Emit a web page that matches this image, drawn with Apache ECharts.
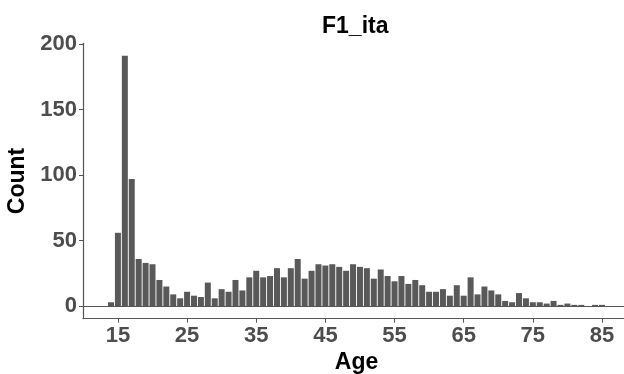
<!DOCTYPE html>
<html><head><meta charset="utf-8">
<script src="https://cdn.jsdelivr.net/npm/echarts@6/dist/echarts.min.js"></script>
<style>html,body{margin:0;padding:0;background:#fff}#c{width:624px;height:374px}</style>
</head><body><div id="c"></div>
<script>
const ages = [14,15,16,17,18,19,20,21,22,23,24,25,26,27,28,29,30,31,32,33,34,35,36,37,38,39,40,41,42,43,44,45,46,47,48,49,50,51,52,53,54,55,56,57,58,59,60,61,62,63,64,65,66,67,68,69,70,71,72,73,74,75,76,77,78,79,80,81,82,83,84,85];
const counts = [3,56,191,97,36,33,32,20,15,9,6,11,8,7,18,6,13,11,20,12,22,27,22,23,29,22,29,36,21,27,32,31,32,30,27,32,30,29,21,28,23,19,23,17,20,16,11,11,13,8,16,8,22,9,15,12,9,4,3,10,6,3,3,2,4,1,2,1,1,0,1,1];
const xTicks = [15,25,35,45,55,65,75,85];
const yTicks = [0,50,100,150,200];
const titleText = 'F1_ita';
const xName = 'Age';
const yName = 'Count';

const chart = echarts.init(document.getElementById('c'), null, {renderer:'canvas'});
const font = 'Liberation Sans, Arial, sans-serif';
const axisCol = '#555555';
chart.setOption({
  animation:false,
  title:{text:titleText,left:317,top:10,textAlign:'left',textStyle:{fontFamily:font,fontWeight:'bold',fontSize:23,color:'#000'}},
  grid:{left:83,right:-6,top:43.3,bottom:55.3,containLabel:false,outerBoundsMode:'none'},
  xAxis:[{
    type:'value',min:9.95,max:89.05,
    name:xName,nameLocation:'middle',nameGap:31,
    nameTextStyle:{fontFamily:font,fontWeight:'bold',fontSize:23,color:'#000'},
    axisLine:{show:true,onZero:false,lineStyle:{color:axisCol,width:1.2}},
    axisTick:{show:true,length:4,customValues:xTicks,lineStyle:{color:axisCol}},
    axisLabel:{customValues:xTicks,fontFamily:font,fontWeight:'bold',fontSize:22,color:'#4d4d4d',margin:6},
    splitLine:{show:false}
  },{
    type:'value',position:'top',min:9.95,max:89.05,
    axisLine:{show:true,lineStyle:{color:axisCol,width:1.2}},
    axisTick:{show:false},axisLabel:{show:false},splitLine:{show:false}
  }],
  yAxis:{
    type:'value',min:-9.55,max:200.55,
    name:yName,nameLocation:'middle',nameGap:49,nameRotate:90,
    nameTextStyle:{fontFamily:font,fontWeight:'bold',fontSize:23,color:'#000'},
    axisLine:{show:true,onZero:false,lineStyle:{color:axisCol,width:1.2}},
    axisTick:{show:true,length:4,customValues:yTicks,lineStyle:{color:axisCol}},
    axisLabel:{customValues:yTicks,fontFamily:font,fontWeight:'bold',fontSize:22,color:'#4d4d4d',margin:6},
    splitLine:{show:false}
  },
  series:[{
    type:'bar',
    data:ages.map((a,i)=>[a,counts[i]]),
    barWidth:6,
    itemStyle:{color:'#595959'}
  }]
});
</script></body></html>
